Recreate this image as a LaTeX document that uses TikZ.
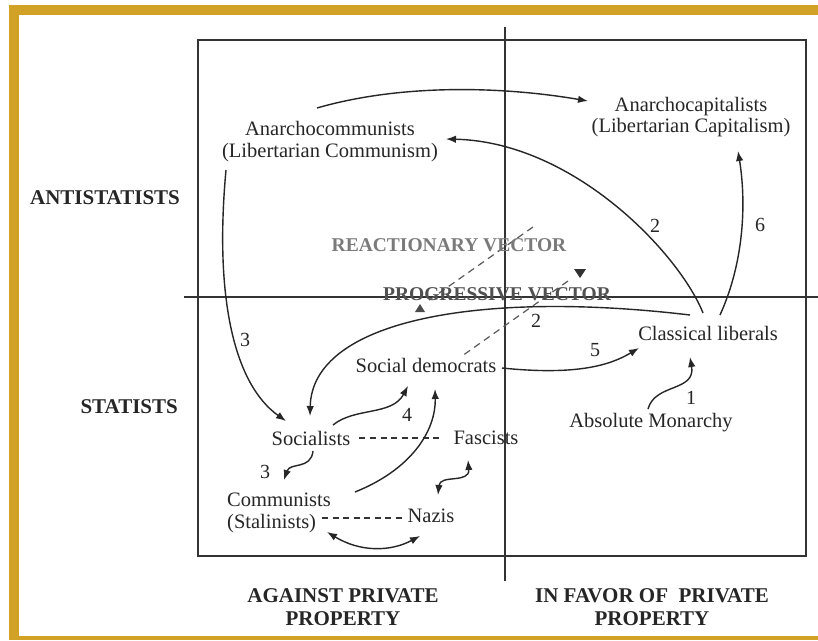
\documentclass[tikz,border=0pt]{standalone}
\usepackage{fontspec}
\setmainfont{Liberation Serif}
\usetikzlibrary{arrows.meta}
\definecolor{gold}{HTML}{D2A227}
\definecolor{boxgray}{HTML}{333333}
\definecolor{reacgray}{HTML}{7A7A7A}
\definecolor{proggray}{HTML}{505050}
\tikzset{
  lbl/.style={font=\fontsize{20.5}{22}\selectfont, inner sep=0pt, align=center, text=black!85},
  axlbl/.style={font=\fontsize{21}{23}\selectfont\bfseries, inner sep=0pt, align=center, text=black!85},
  vec/.style={font=\fontsize{19.5}{22}\selectfont\bfseries, inner sep=0pt},
  num/.style={font=\fontsize{20}{22}\selectfont, inner sep=0pt, text=black!85},
  arr/.style={line width=1.4pt, black!85, -{Latex[length=10pt,width=7.5pt]}},
  darr/.style={line width=1.4pt, black!85, {Latex[length=10pt,width=7.5pt]}-{Latex[length=10pt,width=7.5pt]}},
  dsh/.style={line width=1.1pt, black!80, dash pattern=on 6pt off 4.5pt},
  vdsh/.style={line width=1.2pt, black!65, dash pattern=on 7pt off 5pt},
  axis/.style={line width=1.3pt, boxgray}
}
\begin{document}
\begin{tikzpicture}[x=1pt,y=-1pt]
\useasboundingbox (0,0) rectangle (818,640);
\fill[white] (0,0) rectangle (818,640);
% gold frame
\fill[gold] (9,5) rectangle (818,15);
\fill[gold] (9,5) rectangle (19,640);
\fill[gold] (19,636) rectangle (818,640);
% box and axes
\draw[axis] (198,40) rectangle (806,556);
\draw[axis] (505,27) -- (505,581);
\draw[axis] (184,297) -- (818,297);

% axis labels
\node[axlbl] (anti) at (105,198) {ANTISTATISTS};
\node[axlbl, anchor=east] (stat) at (178,407) {STATISTS};
\node[axlbl] (against) at (343,607) {AGAINST PRIVATE\\PROPERTY};
\node[axlbl] (favor) at (652,607) {IN FAVOR OF\ \ PRIVATE\\PROPERTY};

% vectors
\draw[vdsh] (533,227) -- (425,303);
\fill[black!70] (415,312) -- (425,312) -- (420,304) -- cycle;
\draw[vdsh] (568,281) -- (462,356);
\fill[black!80] (574,269) -- (586,269) -- (580,278) -- cycle;
\node[vec, text=reacgray] (reac) at (449,245) {REACTIONARY VECTOR};
\node[vec, text=proggray] (prog) at (497,294) {PROGRESSIVE VECTOR};

% positions
\node[lbl] (acom) at (330,142) {Anarchocommunists\\(Libertarian Communism)};
\node[lbl, font=\fontsize{20.5}{21}\selectfont] (acap) at (691,117) {Anarchocapitalists\\(Libertarian Capitalism)};
\node[lbl] (cl) at (708,333) {Classical liberals};
\node[lbl] (am) at (651,423) {Absolute Monarchy};
\node[lbl] (sd) at (426,365) {Social democrats};
\node[lbl] (soc) at (311,438) {Socialists};
\node[lbl] (fas) at (486,438) {Fascists};
\node[lbl, align=left, anchor=west] (com) at (227,513) {Communists\\(Stalinists)};
\node[lbl] (naz) at (431,516) {Nazis};

% connector end points
\coordinate (acomR) at (317,108);
\coordinate (acapL) at (588,101);
\coordinate (acomE) at (446,139);
\coordinate (clA) at (703,313);
\coordinate (clB) at (720,315);
\coordinate (clC) at (690,315);
\coordinate (clD) at (639,348);
\coordinate (clE) at (690,357);
\coordinate (acapS) at (738,151);
\coordinate (acomS) at (226,170);
\coordinate (socN) at (286,421);
\coordinate (socN2) at (310,416);
\coordinate (sdE) at (502,368);
\coordinate (amN) at (648,409);
\coordinate (socE) at (333,425);
\coordinate (sdS) at (408,386);
\coordinate (comE) at (355,492);
\coordinate (sdS2) at (435,389);
\coordinate (socS) at (313,451);
\coordinate (comN) at (284,480);
\coordinate (nazN) at (438,495);
\coordinate (fasS) at (468,460);
\coordinate (comS) at (327,532);
\coordinate (nazS) at (420,536);
\coordinate (comD) at (322,518);
\coordinate (nazD) at (403,518);

% dashed links
\draw[dsh] ([xshift=9pt]soc.east) -- ([xshift=-14pt]fas.west);
\draw[dsh] (comD) -- (nazD);

% arrows
\draw[arr] (acomR) .. controls (400,84) and (500,86) .. (acapL);
\draw[arr] (clA) .. controls (680,255) and (575,142) .. (acomE);
\draw[arr] (clB) .. controls (745,260) and (746,200) .. (acapS);
\draw[arr] (acomS) .. controls (214,300) and (235,385) .. (socN);
\draw[arr] (clC) .. controls (480,290) and (312,320) .. (socN2);
\draw[arr] (sdE) .. controls (580,376) and (612,364) .. (clD);
\draw[arr] (amN) .. controls (655,383) and (696,392) .. (clE);
\draw[arr] (socE) .. controls (355,407) and (392,416) .. (sdS);
\draw[arr] (comE) .. controls (410,470) and (436,432) .. (sdS2);
\draw[arr] (socS) .. controls (311,470) and (290,462) .. (comN);
\draw[darr] (nazN) .. controls (440,474) and (470,484) .. (fasS);
\draw[darr] (comS) .. controls (360,552) and (390,552) .. (nazS);

% numbers
\node[num] (n1) at (691,398) {1};
\node[num] (n2a) at (655,226) {2};
\node[num] (n2b) at (536,321) {2};
\node[num] (n3a) at (245,340) {3};
\node[num] (n3b) at (265,472) {3};
\node[num] (n4) at (407,415) {4};
\node[num] (n5) at (595,350) {5};
\node[num] (n6) at (760,225) {6};
\end{tikzpicture}
\end{document}
